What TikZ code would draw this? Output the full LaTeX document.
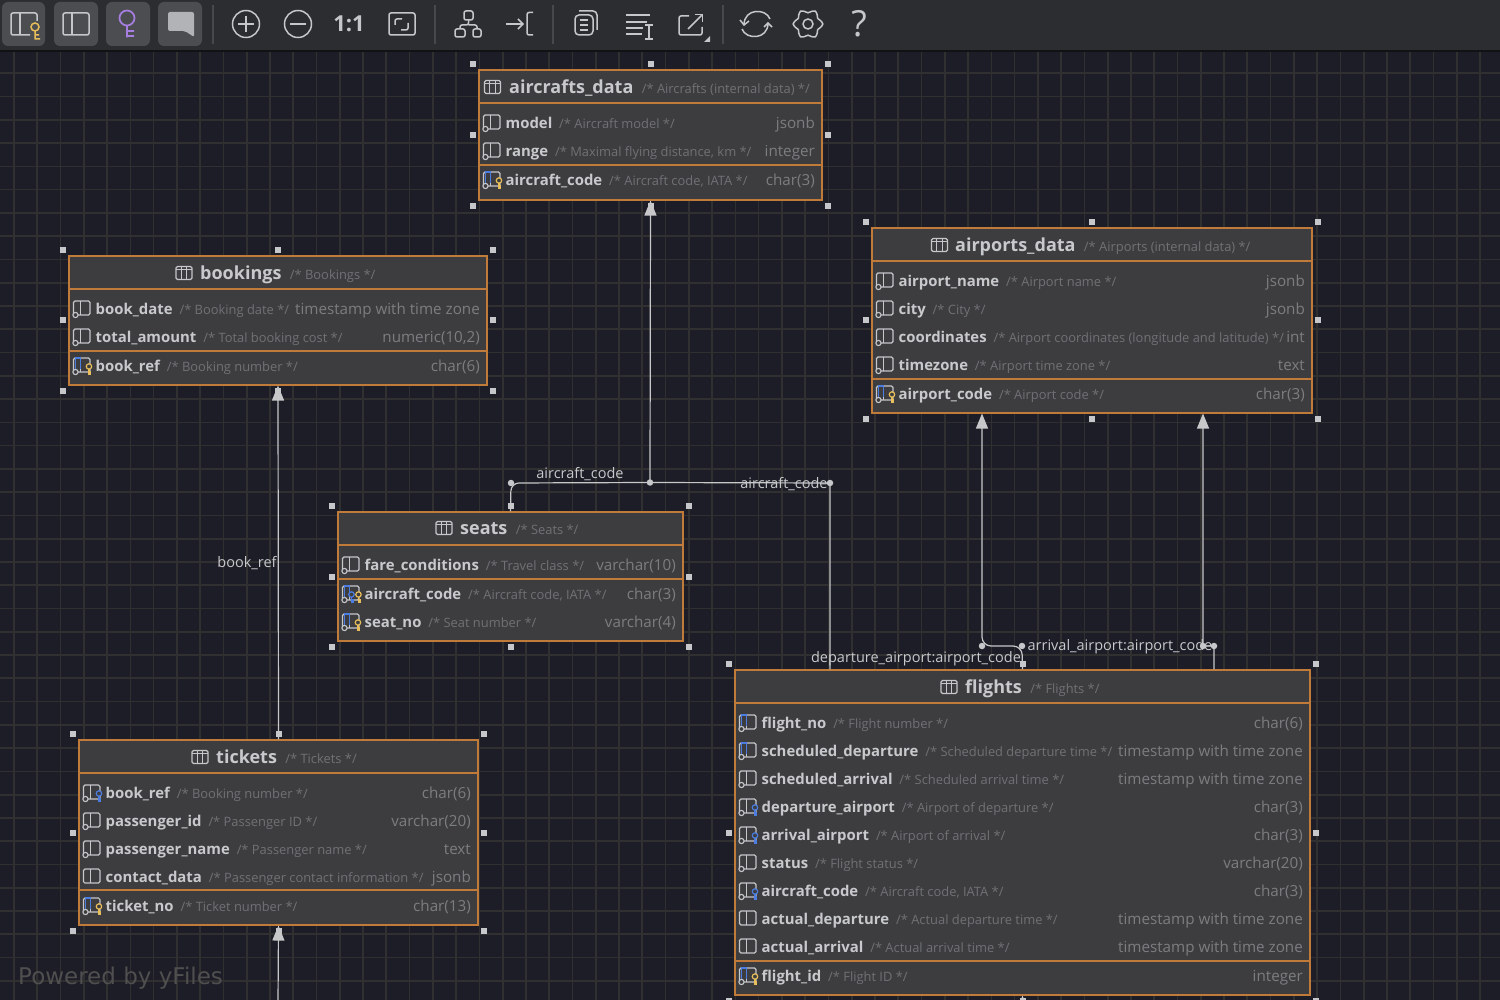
\documentclass[tikz,border=0pt]{standalone}
\usepackage{fontspec}
\setmainfont{Open Sans}
\newfontfamily\wmfont{DejaVu Sans}
\usetikzlibrary{arrows.meta,positioning,calc}
\definecolor{erdcanvas}{RGB}{28,29,38}
\definecolor{erdgrid}{RGB}{48,48,48}
\definecolor{erdbar}{RGB}{43,45,48}
\definecolor{erdbutton}{RGB}{76,77,81}
\definecolor{erdsep}{RGB}{70,72,76}
\definecolor{erdtool}{RGB}{198,199,203}
\definecolor{erdtable}{RGB}{61,61,63}
\definecolor{erdedge}{RGB}{192,122,58}
\definecolor{erdtext}{RGB}{200,201,204}
\definecolor{erdnote}{RGB}{112,113,117}
\definecolor{erdtype}{RGB}{124,125,128}
\definecolor{erdline}{RGB}{200,200,202}
\definecolor{erdblue}{RGB}{76,125,225}
\definecolor{erdkey}{RGB}{232,190,90}
\definecolor{erdpurple}{RGB}{166,127,224}
\tikzset{
    tablebox/.style={draw=erdedge, fill=erdtable, line width=1.05pt, inner sep=0pt},
    tablerule/.style={draw=erdedge, line width=1.1pt},
    handle/.style={fill=erdtool, minimum size=6pt, inner sep=0pt},
    titlename/.style={font=\fontsize{18}{20}\selectfont\bfseries, text=erdtext, anchor=base west, inner sep=0pt},
    titlenote/.style={font=\fontsize{12.9}{15}\selectfont, text=erdnote, inner sep=0pt},
    colname/.style={font=\fontsize{14.9}{18}\selectfont\bfseries, text=erdtext, anchor=base west, inner sep=0pt},
    colnote/.style={font=\fontsize{12.9}{15}\selectfont, text=erdnote, inner sep=0pt},
    coltype/.style={font=\fontsize{15.2}{18}\selectfont, text=erdtype, anchor=base east, inner sep=0pt},
    iconline/.style={draw=erdtool, line width=1.1pt, rounded corners=1.5pt},
    relline/.style={draw=erdline, line width=1.2pt},
    reltip/.style={-{Triangle[width=12pt,length=15pt]}},
    reldot/.style={circle, fill=erdtool, minimum size=6.5pt, inner sep=0pt},
    rellabel/.style={font=\fontsize{14.5}{16}\selectfont, text=erdtext, inner sep=0pt},
    toolline/.style={draw=erdtool, line width=1.5pt, rounded corners=2pt},
    toolbutton/.style={fill=erdbutton, rounded corners=6pt},
    toolsep/.style={draw=erdsep, line width=1.5pt},
    % column icons, origin at the table edge on the row centre
    colplain/.pic={
        \draw[iconline] (5,-8) rectangle (21.5,6);
        \draw[iconline] (12,-8) -- (12,6);
    },
    colnn/.pic={
        \pic {colplain};
        \draw[draw=erdtool, fill=erdtable, line width=1.1pt] (7,6) circle (2.6);
    },
    colblue/.pic={
        \pic {colnn};
        \draw[draw=erdblue, line width=1.3pt] (7,3) -- (7,-8) -- (12,-8) -- (12,3);
    },
    colfk/.pic={
        \pic {colnn};
        \draw[draw=erdblue, fill=erdtable, line width=1.2pt] (20.5,0.5) circle (2.7);
        \draw[draw=erdblue, line width=1.2pt] (20.5,3.2) -- (20.5,8) -- (23,8) (20.5,6) -- (23,6);
    },
    colpk/.pic={
        \pic {colblue};
        \draw[draw=erdkey, fill=erdtable, line width=1.2pt] (20.5,0.5) circle (2.7);
        \draw[draw=erdkey, line width=1.2pt] (20.5,3.2) -- (20.5,8) -- (23,8) (20.5,6) -- (23,6);
    },
    colboth/.pic={
        \pic {colblue};
        \draw[draw=erdblue, fill=erdtable, line width=1.2pt] (14,0.5) circle (2.7);
        \draw[draw=erdblue, line width=1.2pt] (14,3.2) -- (14,8) -- (16.5,8) (14,6) -- (16.5,6);
        \draw[draw=erdkey, fill=erdtable, line width=1.2pt] (21,0.5) circle (2.7);
        \draw[draw=erdkey, line width=1.2pt] (21,3.2) -- (21,8) -- (23.5,8) (21,6) -- (23.5,6);
    },
    coltable/.pic={
        \draw[iconline] (-8,-6.5) rectangle (8,6.5);
        \draw[draw=erdtool, line width=1pt] (-8,-3.5) -- (8,-3.5) (-2.7,-6.5) -- (-2.7,6.5) (2.7,-6.5) -- (2.7,6.5);
    }
}
% table body with its selection handles: id, left, top, right, bottom
\newcommand{\erdbody}[5]{
    \node[tablebox, minimum width=#4-#2, minimum height=#5-#3] (#1) at ({(#2+#4)/2},{(#3+#5)/2}) {};
    \foreach \hname/\hanchor/\hx/\hy in {nw/north west/-5/-5, nn/north/0/-5, ne/north east/5/-5, ee/east/5/0, se/south east/5/5, ss/south/0/5, sw/south west/-5/5, ww/west/-5/0}
        \node[handle] (#1-\hname) at ($(#1.\hanchor)+(\hx,\hy)$) {};
}
% title line: id, icon x, y, name x, name, note
\newcommand{\erdtitle}[6]{
    \pic at (#2,#3) {coltable};
    \node[titlename] (#1-title) at (#4,#3+6.5) {#5};
    \node[titlenote, base right=8pt of #1-title] (#1-note) {#6};
}
% one column: id, table, y, icon, name, note, type
\newcommand{\erdrow}[7]{
    \pic at (#2.west |- 0,#3) {#4};
    \node[colname] (#1-name) at ($(#2.west |- 0,#3)+(27,5.5)$) {#5};
    \node[colnote, base right=6.5pt of #1-name] (#1-note) {#6};
    \node[coltype] (#1-type) at ($(#2.east |- 0,#3)+(-7.5,5.5)$) {#7};
}
\begin{document}
\begin{tikzpicture}[x=1pt, y=-1pt]
    \useasboundingbox (0,0) rectangle (1500,1000);
    \clip (0,0) rectangle (1500,1000);
    \fill[erdcanvas] (0,0) rectangle (1500,1000);

    % Background grid
    \foreach \gx in {0,...,64}
        \draw[erdgrid, line width=1.7pt] ({14+23.27*\gx},50) -- ({14+23.27*\gx},1000);
    \foreach \gy in {0,...,40}
        \draw[erdgrid, line width=1.7pt] (0,{73.3+23.27*\gy}) -- (1500,{73.3+23.27*\gy});

    % Toolbar
    \fill[erdbar] (0,0) rectangle (1500,50);
    \draw[draw=black!60!erdbar, line width=1.5pt] (0,51) -- (1500,51);
    \fill[toolbutton] (2,2) rectangle (45,46);
    \fill[toolbutton] (54,2) rectangle (98,46);
    \fill[toolbutton] (106,2) rectangle (150,46);
    \fill[toolbutton] (158,2) rectangle (202,46);
    \draw[toolline] (37,21) -- (37,13) -- (11,13) -- (11,35) -- (30,35);
    \draw[toolline] (20,13) -- (20,35);
    \draw[draw=erdkey, line width=1.5pt] (35,27) circle (4) (35,31) -- (35,39) -- (40,39) (35,35) -- (39,35);
    \draw[toolline] (63,13) rectangle (89,35);
    \draw[toolline] (72,13) -- (72,35);
    \draw[draw=erdpurple, line width=1.7pt] (127,18) circle (7.5) (127,25.5) -- (127,37.5) (127,31) -- (134,31) (127,36) -- (134,36);
    \fill[erdtool!90!black, rounded corners=2pt] (168,12) -- (194,12) -- (194,37) -- (185,31) -- (168,31) -- cycle;
    \draw[toolsep] (213,5) -- (213,44);
    \draw[toolline] (246,24) circle (13.5);
    \draw[toolline] (246,16) -- (246,32) (238,24) -- (254,24);
    \draw[toolline] (298,24) circle (13.5);
    \draw[toolline] (290,24) -- (306,24);
    \node[font=\fontsize{22}{24}\selectfont\bfseries, text=erdtool, inner sep=0pt] (zoomreset) at (349,24) {1:1};
    \draw[toolline] (389,13) rectangle (415,35);
    \draw[toolline] (395,25) -- (395,19) -- (402,19) (408,23) -- (408,30) -- (401,30);
    \draw[toolsep] (435,5) -- (435,44);
    \draw[toolline] (464,11) rectangle (473,20);
    \draw[toolline] (455,29) rectangle (465,37);
    \draw[toolline] (473,29) rectangle (481,37);
    \draw[toolline] (468.5,20) -- (468.5,25) -- (460,25) -- (460,29) (468.5,25) -- (477,25) -- (477,29);
    \draw[toolline, -{Straight Barb[length=5pt,width=10pt]}] (506,24) -- (524,24);
    \draw[toolline] (533,12.5) -- (527,12.5) -- (527,35) -- (533,35);
    \draw[toolsep] (553,5) -- (553,44);
    \draw[toolline, rounded corners=4pt] (579,11) -- (597,11) -- (597,30) (575,15) rectangle (593,35);
    \draw[draw=erdtool, line width=1.5pt] (580,20) -- (588,20) (580,25) -- (588,25) (580,30) -- (588,30);
    \draw[draw=erdtool, line width=1.5pt] (626,15) -- (650,15) (626,22) -- (647,22) (626,28) -- (643,28) (626,34) -- (642,34);
    \draw[draw=erdtool, line width=1.3pt] (645,25) -- (653,25) (649,25) -- (649,39) (645,39) -- (653,39);
    \draw[toolline] (689,16) -- (679,16) -- (679,35) -- (702,35) -- (702,27);
    \draw[toolline, -{Straight Barb[length=5pt,width=10pt]}] (688,29) -- (703,14);
    \fill[erdtool] (710,36) -- (710,42) -- (704,42) -- cycle;
    \draw[toolsep] (723,5) -- (723,44);
    \draw[draw=erdtool, line width=1.5pt] (744,25) .. controls (744,8) and (766,8) .. (770,19);
    \draw[draw=erdtool, line width=1.5pt] (768,23) .. controls (768,40) and (746,40) .. (742,29);
    \draw[draw=erdtool, line width=1.5pt] (740,20) -- (744,25) -- (749,21) (764,27) -- (768,23) -- (772,27);
    \draw[draw=erdtool, line width=1.5pt] plot[smooth cycle, domain=0:345, samples=24] ({808+(13+1.8*cos(6*\x))*cos(\x)},{24+(13+1.8*cos(6*\x))*sin(\x)});
    \node[draw=erdtool, line width=1.5pt, circle, minimum size=10pt, inner sep=0pt] (settingshub) at (808,24) {};
    \node[font=\fontsize{36}{38}\selectfont, text=erdtool, inner sep=0pt] (helpmark) at (859,24) {?};

    % Tables
    \erdbody{aircrafts_data}{479}{70}{822}{200}
    \erdbody{bookings}{69}{256}{487}{385}
    \erdbody{airports_data}{872}{228}{1312}{413}
    \erdbody{seats}{338}{512}{683}{641}
    \erdbody{tickets}{79}{740}{478}{925}
    \erdbody{flights}{735}{670}{1310}{995}

    % Dividers
    \draw[tablerule] (aircrafts_data.west |- 0,103) -- (aircrafts_data.east |- 0,103);
    \draw[tablerule] (aircrafts_data.west |- 0,165) -- (aircrafts_data.east |- 0,165);
    \draw[tablerule] (bookings.west |- 0,289) -- (bookings.east |- 0,289);
    \draw[tablerule] (bookings.west |- 0,351) -- (bookings.east |- 0,351);
    \draw[tablerule] (airports_data.west |- 0,261) -- (airports_data.east |- 0,261);
    \draw[tablerule] (airports_data.west |- 0,379) -- (airports_data.east |- 0,379);
    \draw[tablerule] (seats.west |- 0,545) -- (seats.east |- 0,545);
    \draw[tablerule] (seats.west |- 0,579) -- (seats.east |- 0,579);
    \draw[tablerule] (tickets.west |- 0,773) -- (tickets.east |- 0,773);
    \draw[tablerule] (tickets.west |- 0,890) -- (tickets.east |- 0,890);
    \draw[tablerule] (flights.west |- 0,703) -- (flights.east |- 0,703);
    \draw[tablerule] (flights.west |- 0,961) -- (flights.east |- 0,961);

    % aircrafts_data
    \erdtitle{ac}{492.5}{87}{509}{aircrafts\_data}{/* Aircrafts (internal data) */}
    \erdrow{acmodel}{aircrafts_data}{123}{colnn}{model}{/* Aircraft model */}{jsonb}
    \erdrow{acrange}{aircrafts_data}{151}{colnn}{range}{/* Maximal flying distance, km */}{integer}
    \erdrow{accode}{aircrafts_data}{180}{colpk}{aircraft\_code}{/* Aircraft code, IATA */}{char(3)}

    % bookings
    \erdtitle{bk}{184}{273}{200}{bookings}{/* Bookings */}
    \erdrow{bkdate}{bookings}{309}{colnn}{book\_date}{/* Booking date */}{timestamp with time zone}
    \erdrow{bktotal}{bookings}{337}{colnn}{total\_amount}{/* Total booking cost */}{numeric(10,2)}
    \erdrow{bkref}{bookings}{366}{colpk}{book\_ref}{/* Booking number */}{char(6)}

    % airports_data
    \erdtitle{ap}{939.5}{245}{955}{airports\_data}{/* Airports (internal data) */}
    \erdrow{apname}{airports_data}{281}{colnn}{airport\_name}{/* Airport name */}{jsonb}
    \erdrow{apcity}{airports_data}{309}{colnn}{city}{/* City */}{jsonb}
    \erdrow{apcoord}{airports_data}{337}{colnn}{coordinates}{/* Airport coordinates (longitude and latitude) */}{int}
    \erdrow{aptz}{airports_data}{365}{colnn}{timezone}{/* Airport time zone */}{text}
    \erdrow{apcode}{airports_data}{394}{colpk}{airport\_code}{/* Airport code */}{char(3)}

    % seats
    \erdtitle{st}{444}{528}{460}{seats}{/* Seats */}
    \erdrow{stfare}{seats}{565}{colnn}{fare\_conditions}{/* Travel class */}{varchar(10)}
    \erdrow{stcode}{seats}{594}{colboth}{aircraft\_code}{/* Aircraft code, IATA */}{char(3)}
    \erdrow{stno}{seats}{622}{colpk}{seat\_no}{/* Seat number */}{varchar(4)}

    % tickets
    \erdtitle{tk}{200}{757}{216}{tickets}{/* Tickets */}
    \erdrow{tkref}{tickets}{793}{colfk}{book\_ref}{/* Booking number */}{char(6)}
    \erdrow{tkpid}{tickets}{821}{colnn}{passenger\_id}{/* Passenger ID */}{varchar(20)}
    \erdrow{tkpname}{tickets}{849}{colnn}{passenger\_name}{/* Passenger name */}{text}
    \erdrow{tkcontact}{tickets}{877}{colplain}{contact\_data}{/* Passenger contact information */}{jsonb}
    \erdrow{tkno}{tickets}{906}{colpk}{ticket\_no}{/* Ticket number */}{char(13)}

    % flights
    \erdtitle{fl}{949}{687}{965}{flights}{/* Flights */}
    \erdrow{flno}{flights}{723}{colblue}{flight\_no}{/* Flight number */}{char(6)}
    \erdrow{flsdep}{flights}{751}{colblue}{scheduled\_departure}{/* Scheduled departure time */}{timestamp with time zone}
    \erdrow{flsarr}{flights}{779}{colnn}{scheduled\_arrival}{/* Scheduled arrival time */}{timestamp with time zone}
    \erdrow{fldep}{flights}{807}{colfk}{departure\_airport}{/* Airport of departure */}{char(3)}
    \erdrow{flarr}{flights}{835}{colfk}{arrival\_airport}{/* Airport of arrival */}{char(3)}
    \erdrow{flstatus}{flights}{863}{colnn}{status}{/* Flight status */}{varchar(20)}
    \erdrow{flcode}{flights}{891}{colfk}{aircraft\_code}{/* Aircraft code, IATA */}{char(3)}
    \erdrow{fladep}{flights}{919}{colplain}{actual\_departure}{/* Actual departure time */}{timestamp with time zone}
    \erdrow{flaarr}{flights}{947}{colplain}{actual\_arrival}{/* Actual arrival time */}{timestamp with time zone}
    \erdrow{flid}{flights}{976}{colpk}{flight\_id}{/* Flight ID */}{integer}

    % Connector bends
    \node[reldot] (seatsbend) at (511,483) {};
    \node[reldot] (acjoin) at (650,482.5) {};
    \node[reldot] (flightsbend) at (830,483) {};
    \node[reldot] (depbend) at (982,646) {};
    \node[reldot] (depfoot) at (1022,646) {};
    \node[reldot] (arrbend) at (1203,646) {};
    \node[reldot] (arrfoot) at (1214,646) {};
    \coordinate (tkin) at (278,1004);
    \coordinate (flin) at (1022.5,1015);

    % Connectors
    \draw[relline, rounded corners=8pt] (seats.north) -- (seatsbend.center) -- (acjoin.center);
    \draw[relline, rounded corners=3pt] (flights.north -| flightsbend) -- (flightsbend.center) -- (acjoin.center);
    \draw[relline, reltip] (acjoin.center) -- (aircrafts_data.south);
    \draw[relline, reltip] (tickets.north) -- (bookings.south);
    \draw[relline, reltip] (tkin) -- (tickets.south);
    \draw[relline, reltip] (flin) -- (flights.south);
    \draw[relline, reltip, rounded corners=9pt] (flights.north) -- (depfoot.center) -- (depbend.center) -- (airports_data.south -| depbend);
    \draw[relline, reltip, rounded corners=3pt] (flights.north -| arrfoot) -- (arrfoot.center) -- (arrbend.center) -- (airports_data.south -| arrbend);

    % Connector labels
    \node[rellabel] (seatslabel) at (580,474) {aircraft\_code};
    \node[rellabel] (flightslabel) at (784,484) {aircraft\_code};
    \node[rellabel] (bookinglabel) at (247,563) {book\_ref};
    \node[rellabel] (deplabel) at (916,659) {departure\_airport:airport\_code};
    \node[rellabel] (arrlabel) at (1120,647) {arrival\_airport:airport\_code};

    % Watermark
    \node[font=\wmfont\fontsize{23}{25}\selectfont, text=erdgrid!85!white, anchor=west, inner sep=0pt] (watermark) at (18,978) {Powered by yFiles};
\end{tikzpicture}
\end{document}
